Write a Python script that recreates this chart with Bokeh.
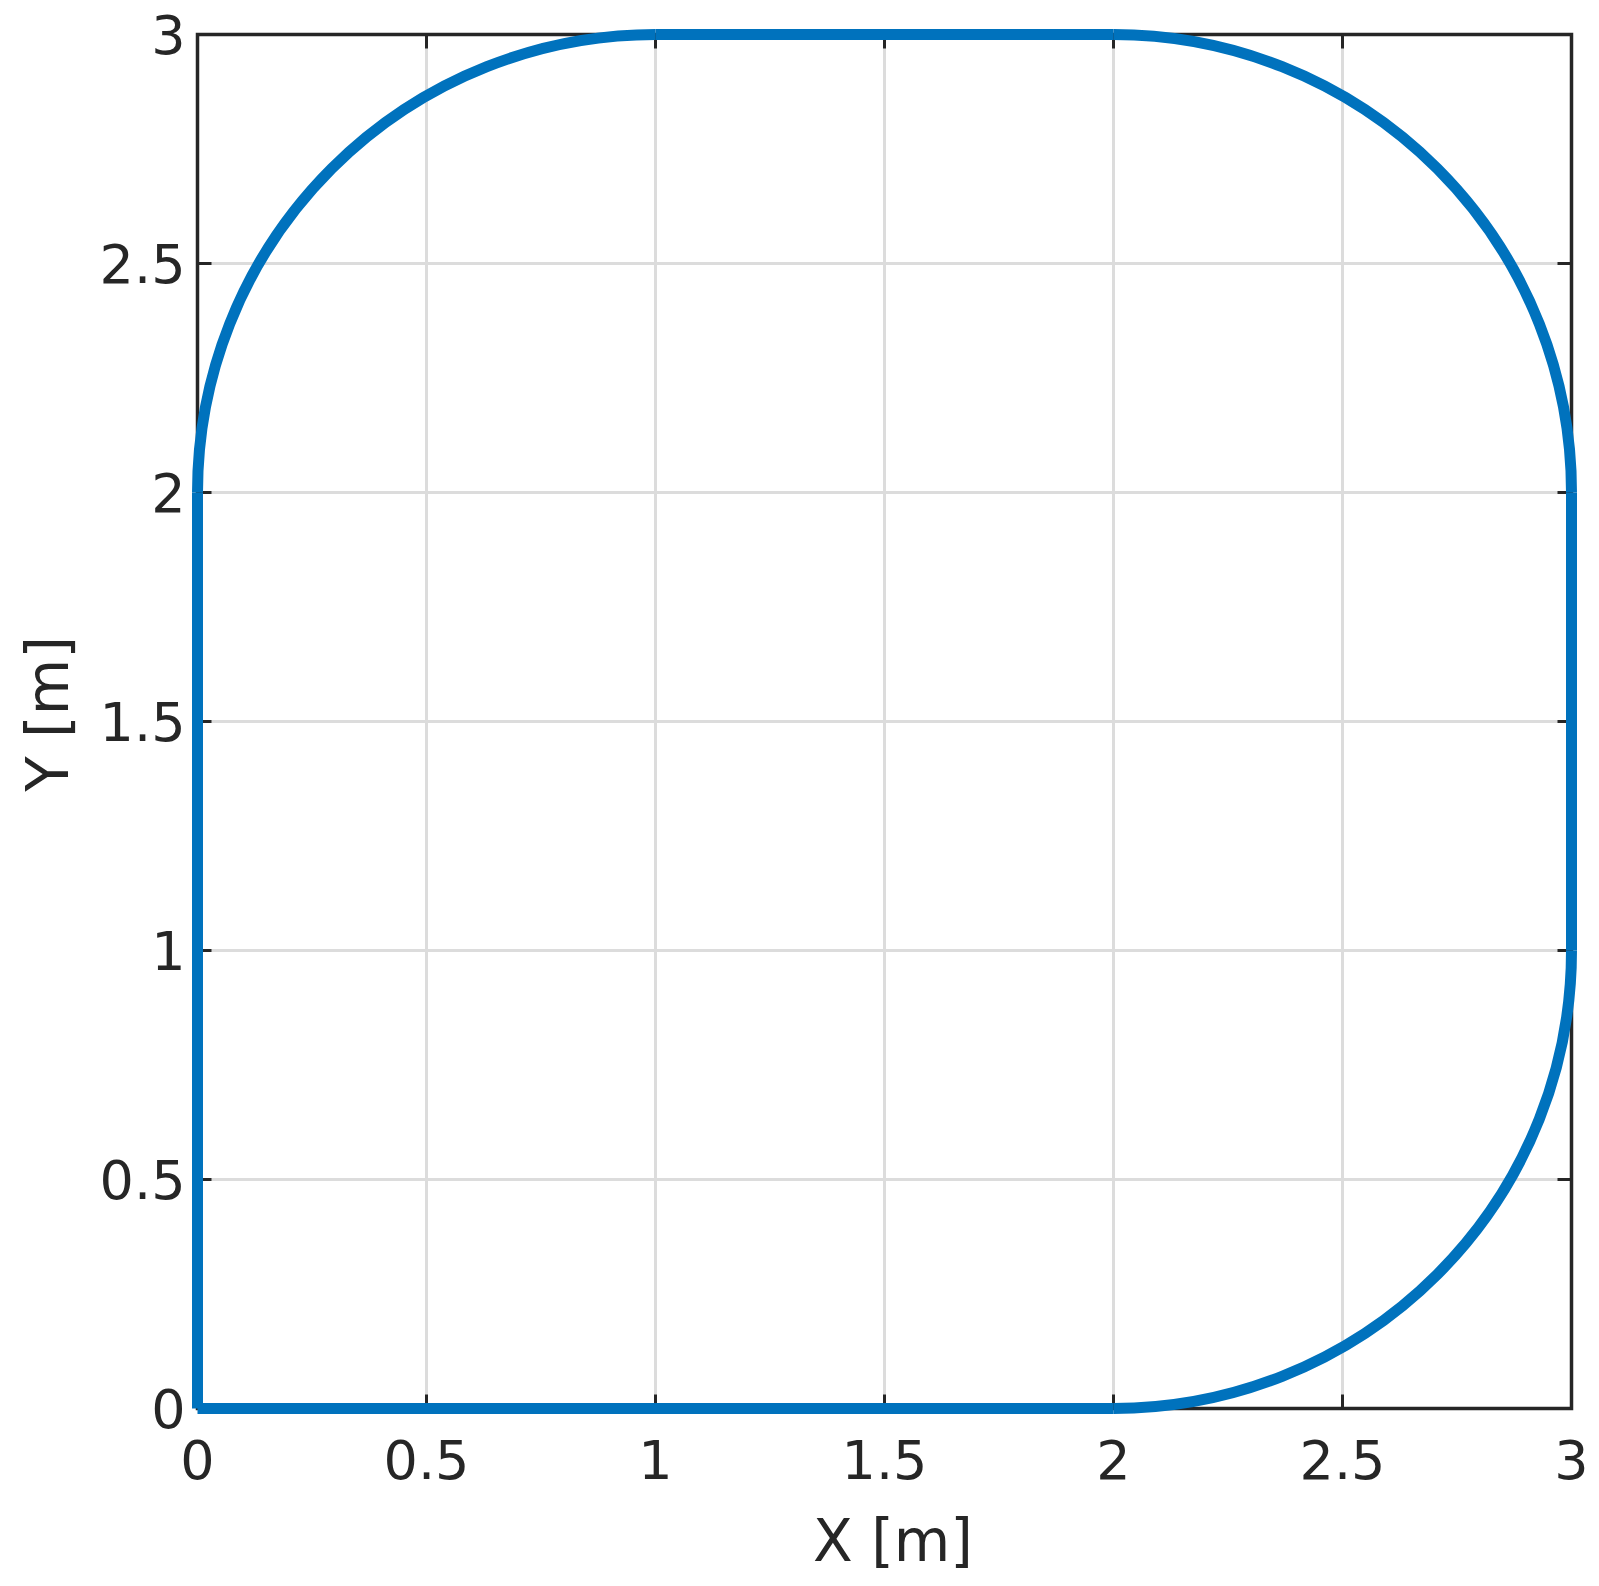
from bokeh.plotting import figure
from bokeh.models import Range1d, FixedTicker
from bokeh.embed import file_html
from bokeh.resources import INLINE

# Straight segments of the path (start -> end)
seg_x0 = [0.0, 3.0, 2.0, 0.0]
seg_y0 = [0.0, 1.0, 3.0, 2.0]
seg_x1 = [2.0, 3.0, 1.0, 0.0]
seg_y1 = [0.0, 2.0, 3.0, 0.0]

# Quarter-circle corners: centre, radius, start/end angle (degrees)
arc_cx = [2.0, 2.0, 1.0]
arc_cy = [1.0, 2.0, 2.0]
arc_r = [1.0, 1.0, 1.0]
arc_a0 = [-90.0, 0.0, 90.0]
arc_a1 = [0.0, 90.0, 180.0]

ticks = [0, 0.5, 1, 1.5, 2, 2.5, 3]
tick_labels = ["0", "0.5", "1", "1.5", "2", "2.5", "3"]
axis_lo, axis_hi = 0.0, 3.0

BLUE = "#0072BD"
DARK = "#262626"
GRID = "#dcdcdc"
FONT = "DejaVu Sans"

PX = 1374                      # pixels spanned by the 0..3 box
# extra frame pixels around the box so the thick line is not clipped
PAD_L, PAD_R, PAD_T, PAD_B = 7, 24, 22, 7
u = (axis_hi - axis_lo) / PX
TICK = 14

p = figure(output_backend="svg", toolbar_location=None,
           frame_width=PX + PAD_L + PAD_R, frame_height=PX + PAD_T + PAD_B,
           x_range=Range1d(axis_lo - PAD_L * u, axis_hi + PAD_R * u),
           y_range=Range1d(axis_lo - PAD_B * u, axis_hi + PAD_T * u),
           min_border_left=190, min_border_top=12, min_border_right=0, min_border_bottom=150,
           background_fill_color="white", border_fill_color="white")
p.outline_line_color = None
p.xgrid.visible = False
p.ygrid.visible = False

for ax in (p.xaxis[0], p.yaxis[0]):
    ax.ticker = FixedTicker(ticks=ticks)
    ax.major_label_overrides = dict(zip(ticks, tick_labels))
    ax.axis_line_color = None
    ax.major_tick_line_color = None
    ax.major_tick_in = 0
    ax.major_tick_out = 0
    ax.minor_tick_line_color = None
    ax.major_label_text_font = FONT
    ax.major_label_text_font_size = "54px"
    ax.major_label_text_color = DARK
    ax.axis_label_text_font = FONT
    ax.axis_label_text_font_size = "58px"
    ax.axis_label_text_font_style = "normal"
    ax.axis_label_text_color = DARK

p.xaxis[0].axis_label = "X [m]"
p.yaxis[0].axis_label = "Y [m]"
p.xaxis[0].major_label_standoff = 24
p.yaxis[0].major_label_standoff = 5
p.xaxis[0].axis_label_standoff = 25
p.yaxis[0].axis_label_standoff = 15

n = len(ticks)
# grid lines, limited to the axes box
p.segment(x0=ticks, y0=[axis_lo] * n, x1=ticks, y1=[axis_hi] * n,
          line_color=GRID, line_width=3)
p.segment(x0=[axis_lo] * n, y0=ticks, x1=[axis_hi] * n, y1=ticks,
          line_color=GRID, line_width=3)

# axes box and inward ticks on all four sides
p.rect(x=[(axis_lo + axis_hi) / 2], y=[(axis_lo + axis_hi) / 2],
       width=[axis_hi - axis_lo], height=[axis_hi - axis_lo],
       fill_color=None, line_color=DARK, line_width=3.5, line_join="miter")
tick_style = dict(length=TICK, length_units="screen", angle_units="deg",
                  line_color=DARK, line_width=3)
p.ray(x=ticks, y=[axis_lo] * n, angle=90, **tick_style)
p.ray(x=ticks, y=[axis_hi] * n, angle=-90, **tick_style)
p.ray(x=[axis_lo] * n, y=ticks, angle=0, **tick_style)
p.ray(x=[axis_hi] * n, y=ticks, angle=180, **tick_style)

# the path
p.segment(x0=seg_x0, y0=seg_y0, x1=seg_x1, y1=seg_y1,
          line_color=BLUE, line_width=11, line_cap="butt", level="overlay")
p.arc(x=arc_cx, y=arc_cy, radius=arc_r, start_angle=arc_a0, end_angle=arc_a1,
      start_angle_units="deg", end_angle_units="deg", radius_units="data",
      line_color=BLUE, line_width=11, line_cap="butt", level="overlay")

open("out.html", "w").write(file_html(p, INLINE))
